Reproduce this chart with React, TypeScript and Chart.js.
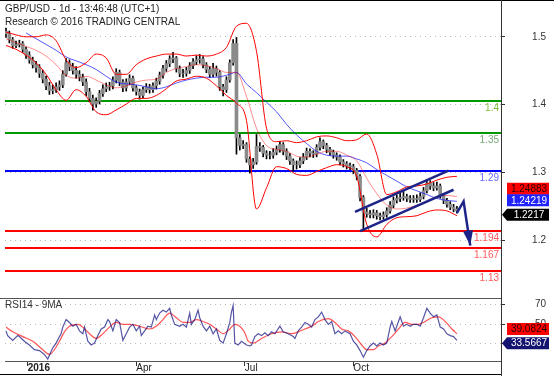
import React, { useEffect, useRef } from 'react';
import { Chart, registerables } from 'chart.js';

Chart.register(...registerables);

const FONT = '"Liberation Sans", Arial, Helvetica, sans-serif';
const NAVY = '#1c2488';

const TITLE = 'GBP/USD - 1d - 13:46:48 (UTC+1)';
const SUBTITLE = 'Research \u00A9 2016 TRADING CENTRAL';
const RSI_TITLE = 'RSI14 - 9MA';

const X_MIN = -0.6;
const X_MAX = 296.4;
const PRICE_MIN = 1.13262;
const PRICE_MAX = 1.54539;
const RSI_MIN = 12.57;
const RSI_MAX = 76.38;

const xTickDays = [13, 78, 143, 208];
const xTickLabels = ['2016', 'Apr', 'Jul', 'Oct'];
const priceTicks = [1.2, 1.3, 1.4, 1.5];
const priceTickLabels = ['1.2', '1.3', '1.4', '1.5'];
const rsiTicks = [30, 50, 70];
const rsiTickLabels = ['30', '50', '70'];

// trading-day index of each candle (one candle per two sessions)
const candleDays = [
  0, 2, 4, 6, 8, 10, 12, 14, 16, 18,
  20, 22, 24, 26, 28, 30, 32, 34, 36, 38,
  40, 42, 44, 46, 48, 50, 52, 54, 56, 58,
  60, 62, 64, 66, 68, 70, 72, 74, 76, 78,
  80, 82, 84, 86, 88, 90, 92, 94, 96, 98,
  100, 102, 104, 106, 108, 110, 112, 114, 116, 118,
  120, 122, 124, 126, 128, 130, 132, 134, 136, 138,
  140, 142, 144, 146, 148, 150, 152, 154, 156, 158,
  160, 162, 164, 166, 168, 170, 172, 174, 176, 178,
  180, 182, 184, 186, 188, 190, 192, 194, 196, 198,
  200, 202, 204, 206, 208, 210, 212, 214, 216, 218,
  220, 222, 224, 226, 228, 230, 232, 234, 236, 238,
  240, 242, 244, 246, 248, 250, 252, 254, 256, 258,
  260, 262, 264, 266, 268, 270,
];

const opens = [
  1.5080, 1.5043, 1.4957, 1.4872, 1.4886, 1.4901, 1.4816, 1.4730, 1.4660, 1.4589,
  1.4546, 1.4461, 1.4376, 1.4277, 1.4206, 1.4220, 1.4262, 1.4291, 1.4447, 1.4617,
  1.4560, 1.4504, 1.4447, 1.4404, 1.4333, 1.4191, 1.4092, 1.4007, 1.4050, 1.4163,
  1.4234, 1.4262, 1.4277, 1.4362, 1.4475, 1.4333, 1.4248, 1.4333, 1.4390, 1.4248,
  1.4191, 1.4135, 1.4220, 1.4262, 1.4220, 1.4277, 1.4347, 1.4433, 1.4532, 1.4603,
  1.4674, 1.4688, 1.4532, 1.4461, 1.4461, 1.4504, 1.4574, 1.4631, 1.4660, 1.4674,
  1.4589, 1.4518, 1.4447, 1.4532, 1.4475, 1.4262, 1.4220, 1.4362, 1.4617, 1.4901,
  1.3511, 1.3397, 1.3411, 1.3199, 1.3113, 1.3156, 1.3383, 1.3369, 1.3284, 1.3255,
  1.3255, 1.3298, 1.3340, 1.3411, 1.3312, 1.3241, 1.3170, 1.3113, 1.3113, 1.3170,
  1.3227, 1.3312, 1.3284, 1.3270, 1.3369, 1.3454, 1.3397, 1.3340, 1.3298, 1.3255,
  1.3227, 1.3156, 1.3128, 1.3099, 1.3085, 1.3028, 1.2943, 1.2631, 1.2418, 1.2390,
  1.2376, 1.2404, 1.2362, 1.2348, 1.2376, 1.2433, 1.2518, 1.2589, 1.2617, 1.2631,
  1.2645, 1.2617, 1.2603, 1.2617, 1.2603, 1.2645, 1.2730, 1.2844, 1.2801, 1.2773,
  1.2801, 1.2660, 1.2589, 1.2532, 1.2489, 1.2461,
];

const highs = [
  1.5130, 1.5085, 1.4990, 1.4935, 1.4950, 1.4930, 1.4850, 1.4780, 1.4700, 1.4640,
  1.4590, 1.4510, 1.4420, 1.4330, 1.4290, 1.4320, 1.4350, 1.4500, 1.4680, 1.4660,
  1.4610, 1.4560, 1.4500, 1.4450, 1.4380, 1.4240, 1.4140, 1.4100, 1.4210, 1.4290,
  1.4320, 1.4330, 1.4410, 1.4530, 1.4510, 1.4370, 1.4380, 1.4440, 1.4420, 1.4280,
  1.4230, 1.4260, 1.4310, 1.4300, 1.4320, 1.4390, 1.4480, 1.4580, 1.4650, 1.4720,
  1.4770, 1.4710, 1.4570, 1.4520, 1.4550, 1.4620, 1.4680, 1.4720, 1.4740, 1.4710,
  1.4620, 1.4560, 1.4610, 1.4570, 1.4500, 1.4300, 1.4410, 1.4660, 1.4960, 1.4990,
  1.3560, 1.3470, 1.3440, 1.3230, 1.3210, 1.3560, 1.3440, 1.3400, 1.3320, 1.3310,
  1.3350, 1.3390, 1.3460, 1.3440, 1.3350, 1.3280, 1.3200, 1.3170, 1.3220, 1.3280,
  1.3360, 1.3350, 1.3320, 1.3410, 1.3510, 1.3480, 1.3430, 1.3370, 1.3330, 1.3290,
  1.3260, 1.3190, 1.3160, 1.3140, 1.3120, 1.3060, 1.2970, 1.2660, 1.2470, 1.2440,
  1.2450, 1.2440, 1.2400, 1.2420, 1.2480, 1.2570, 1.2640, 1.2670, 1.2700, 1.2720,
  1.2680, 1.2660, 1.2660, 1.2670, 1.2700, 1.2780, 1.2890, 1.2880, 1.2850, 1.2860,
  1.2830, 1.2690, 1.2620, 1.2570, 1.2530, 1.2500,
];

const lows = [
  1.4990, 1.4910, 1.4830, 1.4840, 1.4850, 1.4770, 1.4680, 1.4610, 1.4540, 1.4480,
  1.4400, 1.4320, 1.4220, 1.4150, 1.4160, 1.4180, 1.4210, 1.4250, 1.4420, 1.4500,
  1.4450, 1.4390, 1.4350, 1.4280, 1.4130, 1.4040, 1.3920, 1.3960, 1.4010, 1.4120,
  1.4190, 1.4210, 1.4230, 1.4320, 1.4280, 1.4190, 1.4200, 1.4290, 1.4200, 1.4140,
  1.4080, 1.4100, 1.4180, 1.4170, 1.4180, 1.4230, 1.4300, 1.4390, 1.4490, 1.4560,
  1.4620, 1.4480, 1.4410, 1.4400, 1.4420, 1.4460, 1.4530, 1.4590, 1.4610, 1.4540,
  1.4470, 1.4400, 1.4410, 1.4420, 1.4210, 1.4130, 1.4180, 1.4330, 1.4580, 1.3270,
  1.3330, 1.3350, 1.3150, 1.2990, 1.3060, 1.3120, 1.3310, 1.3230, 1.3200, 1.3200,
  1.3210, 1.3260, 1.3300, 1.3260, 1.3190, 1.3120, 1.3020, 1.3050, 1.3070, 1.3130,
  1.3190, 1.3230, 1.3220, 1.3230, 1.3330, 1.3350, 1.3290, 1.3250, 1.3210, 1.3180,
  1.3110, 1.3080, 1.3050, 1.3040, 1.2980, 1.2890, 1.2580, 1.2163, 1.2340, 1.2330,
  1.2330, 1.2310, 1.2300, 1.2310, 1.2340, 1.2400, 1.2480, 1.2550, 1.2570, 1.2590,
  1.2570, 1.2560, 1.2560, 1.2560, 1.2570, 1.2610, 1.2700, 1.2750, 1.2730, 1.2740,
  1.2620, 1.2540, 1.2490, 1.2450, 1.2420, 1.2400,
];

const closes = [
  1.5043, 1.4957, 1.4872, 1.4886, 1.4901, 1.4816, 1.4730, 1.4660, 1.4589, 1.4546,
  1.4461, 1.4376, 1.4277, 1.4206, 1.4220, 1.4262, 1.4291, 1.4447, 1.4617, 1.4560,
  1.4504, 1.4447, 1.4404, 1.4333, 1.4191, 1.4092, 1.4007, 1.4050, 1.4163, 1.4234,
  1.4262, 1.4277, 1.4362, 1.4475, 1.4333, 1.4248, 1.4333, 1.4390, 1.4248, 1.4191,
  1.4135, 1.4220, 1.4262, 1.4220, 1.4277, 1.4347, 1.4433, 1.4532, 1.4603, 1.4674,
  1.4688, 1.4532, 1.4461, 1.4461, 1.4504, 1.4574, 1.4631, 1.4660, 1.4674, 1.4589,
  1.4518, 1.4447, 1.4532, 1.4475, 1.4262, 1.4220, 1.4362, 1.4617, 1.4901, 1.3511,
  1.3397, 1.3411, 1.3199, 1.3113, 1.3156, 1.3383, 1.3369, 1.3284, 1.3255, 1.3255,
  1.3298, 1.3340, 1.3411, 1.3312, 1.3241, 1.3170, 1.3113, 1.3113, 1.3170, 1.3227,
  1.3312, 1.3284, 1.3270, 1.3369, 1.3454, 1.3397, 1.3340, 1.3298, 1.3255, 1.3227,
  1.3156, 1.3128, 1.3099, 1.3085, 1.3028, 1.2943, 1.2631, 1.2418, 1.2390, 1.2376,
  1.2404, 1.2362, 1.2348, 1.2376, 1.2433, 1.2518, 1.2589, 1.2617, 1.2631, 1.2645,
  1.2617, 1.2603, 1.2617, 1.2603, 1.2645, 1.2730, 1.2844, 1.2801, 1.2773, 1.2801,
  1.2660, 1.2589, 1.2532, 1.2489, 1.2461, 1.2433,
];

// Bollinger bands, sampled every 6 sessions
const bandDays = [
  0, 6, 12, 18, 24, 30, 36, 42, 48, 54,
  60, 66, 72, 78, 84, 90, 96, 102, 108, 114,
  120, 126, 132, 138, 144, 150, 156, 162, 168, 174,
  180, 186, 192, 198, 204, 210, 216, 222, 228, 234,
  240, 246, 252, 258, 264, 270,
];
const bandUpper = [
  1.5071, 1.5028, 1.5000, 1.5000, 1.5028, 1.4943, 1.4660, 1.4546, 1.4617, 1.4745,
  1.4688, 1.4447, 1.4447, 1.4589, 1.4674, 1.4716, 1.4745, 1.4745, 1.4716, 1.4730,
  1.4716, 1.4745, 1.4844, 1.5156, 1.5199, 1.4787, 1.3652, 1.3454, 1.3468, 1.3440,
  1.3468, 1.3525, 1.3539, 1.3511, 1.3468, 1.3482, 1.3567, 1.3270, 1.2674, 1.2716,
  1.2787, 1.2801, 1.2830, 1.2887, 1.2929, 1.2943,
];
const bandMiddle = [
  1.4972, 1.4915, 1.4858, 1.4801, 1.4716, 1.4589, 1.4433, 1.4390, 1.4418, 1.4362,
  1.4291, 1.4248, 1.4277, 1.4333, 1.4362, 1.4376, 1.4475, 1.4532, 1.4560, 1.4589,
  1.4574, 1.4532, 1.4475, 1.4475, 1.4121, 1.3652, 1.3397, 1.3340, 1.3312, 1.3241,
  1.3227, 1.3270, 1.3312, 1.3312, 1.3255, 1.3170, 1.2915, 1.2688, 1.2518, 1.2461,
  1.2475, 1.2518, 1.2574, 1.2645, 1.2660, 1.2645,
];
const bandLower = [
  1.4872, 1.4816, 1.4730, 1.4617, 1.4447, 1.4220, 1.4064, 1.4220, 1.4121, 1.3894,
  1.3851, 1.3922, 1.4007, 1.4092, 1.4092, 1.4135, 1.4234, 1.4348, 1.4376, 1.4418,
  1.4390, 1.4277, 1.4135, 1.4021, 1.3766, 1.2461, 1.2773, 1.3085, 1.3057, 1.2972,
  1.2957, 1.3014, 1.3071, 1.3114, 1.3085, 1.2943, 1.2234, 1.2050, 1.2234, 1.2333,
  1.2348, 1.2362, 1.2418, 1.2447, 1.2433, 1.2362,
];

// long moving average (blue)
const maDays = [
  12, 18, 24, 30, 36, 42, 48, 54, 60, 66,
  72, 78, 84, 90, 96, 102, 108, 114, 120, 126,
  132, 138, 144, 150, 156, 162, 168, 174, 180, 186,
  192, 198, 204, 210, 216, 222, 228, 234, 240, 246,
  252, 258, 264, 270,
];
const maValues = [
  1.5057, 1.4972, 1.4887, 1.4801, 1.4702, 1.4645, 1.4589, 1.4518, 1.4418, 1.4333,
  1.4305, 1.4291, 1.4262, 1.4234, 1.4262, 1.4319, 1.4362, 1.4390, 1.4404, 1.4404,
  1.4433, 1.4475, 1.4305, 1.4177, 1.4035, 1.3894, 1.3709, 1.3553, 1.3426, 1.3312,
  1.3255, 1.3241, 1.3241, 1.3199, 1.3142, 1.3043, 1.2957, 1.2872, 1.2787, 1.2730,
  1.2674, 1.2617, 1.2589, 1.2574,
];

// rising channel and projected path
const channelUpperDays = [209, 265];
const channelUpperValues = [1.2418, 1.3028];
const channelLowerDays = [212, 268];
const channelLowerValues = [1.2135, 1.2745];
const arrowDays = [270, 274, 278];
const arrowValues = [1.2404, 1.2574, 1.1922];

// horizontal levels
const levelValues = [1.4057, 1.3577, 1.3024, 1.2135, 1.1884, 1.1543];
const levelLabels = ['1.4', '1.35', '1.29', '1.194', '1.167', '1.13'];
const levelColors = ['#009900', '#009900', '#0000ff', '#ff0000', '#ff0000', '#ff0000'];
const levelTextColors = ['#7dbb3c', '#78a878', '#6a6aff', '#ff5a5a', '#ff5a5a', '#ff5a5a'];

// price tags
const priceTagLabels = ['1.24883', '1.24219', '1.2217'];
const priceTagLevels = [1.2759, 1.2589, 1.2376];
const priceTagFill = ['#ff0000', '#2222ff', '#000000'];
const priceTagText = ['#2a0000', '#ffffff', '#ffffff'];
const priceTagArrow = [false, false, true];

// RSI(14) and its 9-period MA
const rsiDays = [
  0, 1, 4, 7, 8, 11, 14, 17, 20, 23,
  25, 26, 28, 30, 32, 33, 34, 36, 38, 40,
  42, 44, 46, 47, 49, 51, 53, 55, 57, 59,
  61, 62, 64, 66, 68, 70, 72, 74, 76, 78,
  80, 81, 83, 85, 87, 89, 90, 92, 94, 96,
  98, 99, 101, 104, 106, 108, 110, 111, 113, 115,
  116, 118, 120, 122, 124, 126, 128, 130, 132, 134,
  135, 136, 137, 139, 141, 144, 146, 147, 149, 151,
  153, 155, 157, 159, 161, 164, 166, 169, 172, 173,
  175, 177, 179, 181, 183, 185, 187, 189, 191, 193,
  195, 197, 199, 201, 203, 206, 208, 210, 212, 214,
  216, 218, 220, 222, 224, 226, 228, 230, 231, 233,
  235, 236, 238, 240, 242, 244, 246, 248, 250, 252,
  254, 256, 258, 260, 262, 264, 266, 268, 270,
];
const rsiValues = [
  43.1, 38.3, 33.5, 38.3, 37.3, 32.6, 28.8, 24.0, 23.1, 19.2,
  14.5, 18.3, 25.9, 30.7, 37.3, 40.2, 46.9, 54.5, 51.6, 47.8,
  49.7, 43.1, 40.2, 46.9, 32.6, 28.8, 30.7, 38.3, 45.0, 46.9,
  54.5, 52.6, 43.1, 54.5, 51.6, 33.5, 40.2, 46.9, 49.7, 43.1,
  47.8, 38.3, 43.1, 47.8, 46.9, 59.2, 54.5, 61.1, 64.0, 62.1,
  65.9, 59.2, 49.7, 47.8, 49.7, 46.9, 61.1, 49.7, 54.5, 64.0,
  56.4, 47.8, 43.1, 47.8, 40.2, 45.0, 33.5, 30.7, 40.2, 51.6,
  62.1, 68.8, 30.7, 28.8, 32.6, 28.8, 27.8, 28.8, 37.3, 40.2,
  38.3, 41.1, 38.3, 42.1, 40.2, 47.8, 42.1, 40.2, 37.3, 35.4,
  43.1, 46.9, 51.6, 49.7, 46.9, 54.5, 57.3, 62.1, 54.5, 49.7,
  52.6, 40.2, 43.1, 40.2, 43.1, 40.2, 32.6, 28.8, 23.1, 16.4,
  23.1, 27.8, 30.7, 27.8, 30.7, 28.8, 30.7, 46.9, 52.6, 43.1,
  52.6, 57.3, 47.8, 49.7, 47.8, 49.7, 49.7, 47.8, 56.4, 65.9,
  61.1, 57.3, 59.2, 46.9, 45.0, 40.2, 38.3, 37.3, 33.5,
];
const rsiMaDays = [
  0, 4, 10, 16, 22, 26, 29, 32, 35, 38,
  43, 46, 50, 54, 58, 62, 66, 70, 74, 80,
  86, 90, 94, 98, 102, 106, 110, 114, 118, 122,
  126, 130, 134, 137, 140, 143, 145, 148, 153, 159,
  165, 171, 175, 179, 183, 187, 193, 197, 201, 205,
  209, 213, 216, 220, 223, 227, 231, 235, 239, 243,
  247, 251, 255, 259, 263, 267, 270,
];
const rsiMaValues = [
  46.9, 42.1, 37.3, 32.6, 24.0, 19.2, 24.0, 32.6, 42.1, 47.8,
  49.7, 46.9, 40.2, 35.4, 40.2, 46.9, 51.6, 49.7, 49.7, 47.8,
  45.0, 47.8, 54.5, 61.1, 56.4, 51.6, 51.6, 54.5, 52.6, 49.7,
  45.0, 40.2, 45.0, 49.7, 47.8, 41.1, 32.6, 30.7, 35.4, 40.2,
  42.1, 40.2, 42.1, 45.0, 47.8, 52.6, 55.4, 51.6, 45.0, 43.1,
  37.3, 28.8, 24.0, 24.0, 27.8, 30.7, 37.3, 45.0, 51.6, 49.7,
  49.7, 52.6, 56.4, 57.3, 52.6, 45.0, 40.2,
];

const rsiTagLabels = ['39.0824', '33.5667'];
const rsiTagLevels = [44.95, 30.67];
const rsiTagFill = ['#ff0000', '#141470'];
const rsiTagText = ['#2a0000', '#ffffff'];
const rsiTagArrow = [false, true];

const pts = (xs: number[], ys: number[]) => xs.map((x, i) => ({ x, y: ys[i] }));

const lineDs = (data: any[], color: string, width: number, extra: any = {}) => ({
  type: 'line',
  data,
  borderColor: color,
  backgroundColor: color,
  borderWidth: width,
  pointRadius: 0,
  fill: false,
  cubicInterpolationMode: 'monotone',
  ...extra,
});

function drawTag(ctx: CanvasRenderingContext2D, right: number, y: number, label: string, fill: string, text: string, arrow: boolean) {
  const x0 = right + 6;
  const x1 = right + 48;
  const h = 12;
  ctx.save();
  ctx.fillStyle = fill;
  ctx.beginPath();
  if (arrow) {
    ctx.moveTo(right + 1, y);
    ctx.lineTo(x0, y - h / 2);
    ctx.lineTo(x1, y - h / 2);
    ctx.lineTo(x1, y + h / 2);
    ctx.lineTo(x0, y + h / 2);
    ctx.closePath();
  } else {
    ctx.rect(x0, y - h / 2, x1 - x0, h);
  }
  ctx.fill();
  ctx.fillStyle = text;
  ctx.font = `10px ${FONT}`;
  ctx.textAlign = 'center';
  ctx.textBaseline = 'middle';
  ctx.fillText(label, (x0 + x1) / 2 + 1, y + 0.5);
  ctx.restore();
}

const yAxisCommon = (ticks: number[], labels: string[]) => ({
  type: 'linear',
  position: 'right',
  afterFit: (s: any) => {
    s.width = 45;
  },
  afterBuildTicks: (s: any) => {
    s.ticks = ticks.map((v) => ({ value: v }));
  },
  ticks: {
    callback: (_v: any, i: number) => labels[i],
    color: '#333',
    font: { family: FONT, size: 10 },
    crossAlign: 'far',
    padding: 0,
  },
  grid: {
    color: '#b8b8b8',
    lineWidth: 1,
    drawTicks: true,
    tickLength: 4,
    tickColor: '#333',
    tickBorderDash: [],
  },
  border: { display: false, dash: [1, 4] },
});

const pricePlugin = {
  id: 'priceDecor',
  beforeDatasetsDraw(chart: any) {
    const { ctx, chartArea: a, scales } = chart;
    ctx.save();
    levelValues.forEach((v, i) => {
      const py = Math.round(scales.y.getPixelForValue(v));
      ctx.strokeStyle = levelColors[i];
      ctx.lineWidth = 2;
      ctx.beginPath();
      ctx.moveTo(a.left, py);
      ctx.lineTo(a.right, py);
      ctx.stroke();
    });
    ctx.restore();
  },
  afterDatasetsDraw(chart: any) {
    const { ctx } = chart;
    const meta = chart.getDatasetMeta(0);
    const n = meta.data.length;
    const p1 = meta.data[n - 2];
    const p2 = meta.data[n - 1];
    const ang = Math.atan2(p2.y - p1.y, p2.x - p1.x);
    const L = 15;
    const W = 5;
    ctx.save();
    ctx.fillStyle = NAVY;
    ctx.beginPath();
    ctx.moveTo(p2.x, p2.y);
    ctx.lineTo(p2.x - L * Math.cos(ang) + W * Math.sin(ang), p2.y - L * Math.sin(ang) - W * Math.cos(ang));
    ctx.lineTo(p2.x - L * Math.cos(ang) - W * Math.sin(ang), p2.y - L * Math.sin(ang) + W * Math.cos(ang));
    ctx.closePath();
    ctx.fill();
    ctx.restore();
  },
  afterDraw(chart: any) {
    const { ctx, chartArea: a, scales } = chart;
    ctx.save();
    // level labels
    ctx.font = `10px ${FONT}`;
    ctx.textAlign = 'right';
    ctx.textBaseline = 'top';
    levelValues.forEach((v, i) => {
      const py = Math.round(scales.y.getPixelForValue(v));
      ctx.fillStyle = levelTextColors[i];
      ctx.fillText(levelLabels[i], a.right - 2, py + 2);
    });
    // titles
    ctx.fillStyle = '#222';
    ctx.textAlign = 'left';
    ctx.textBaseline = 'middle';
    ctx.font = `10px ${FONT}`;
    ctx.fillText(TITLE, 5, 9);
    ctx.fillText(SUBTITLE, 5, 22);
    // frame
    ctx.fillStyle = '#000';
    ctx.fillRect(0, 0, chart.width, 1);
    ctx.fillStyle = '#333';
    ctx.fillRect(a.right, 0, 1, chart.height);
    ctx.restore();
    priceTagLabels.forEach((lab, i) => {
      drawTag(ctx, a.right, scales.y.getPixelForValue(priceTagLevels[i]), lab, priceTagFill[i], priceTagText[i], priceTagArrow[i]);
    });
  },
};

const rsiPlugin = {
  id: 'rsiDecor',
  afterDraw(chart: any) {
    const { ctx, chartArea: a, scales } = chart;
    ctx.save();
    ctx.fillStyle = '#555';
    ctx.fillRect(0, a.top, a.right, 1);
    ctx.fillStyle = '#000';
    ctx.fillRect(0, chart.height - 2, a.right, 1);
    ctx.fillStyle = '#333';
    ctx.fillRect(a.right, 0, 1, chart.height);
    ctx.fillStyle = '#333';
    ctx.font = `10px ${FONT}`;
    ctx.textAlign = 'left';
    ctx.textBaseline = 'middle';
    ctx.fillText(RSI_TITLE, 5, a.top + 7);
    ctx.restore();
    rsiTagLabels.forEach((lab, i) => {
      drawTag(ctx, a.right, scales.y.getPixelForValue(rsiTagLevels[i]), lab, rsiTagFill[i], rsiTagText[i], rsiTagArrow[i]);
    });
  },
};

export default function App() {
  const priceRef = useRef<HTMLCanvasElement>(null);
  const rsiRef = useRef<HTMLCanvasElement>(null);

  useEffect(() => {
    const priceChart = new Chart(priceRef.current as HTMLCanvasElement, {
      type: 'bar',
      data: {
        datasets: [
          lineDs(pts(arrowDays, arrowValues), NAVY, 2.5, { cubicInterpolationMode: 'default', tension: 0 }),
          lineDs(pts(channelUpperDays, channelUpperValues), NAVY, 2.5),
          lineDs(pts(channelLowerDays, channelLowerValues), NAVY, 2.5),
          lineDs(pts(bandDays, bandUpper), '#ff0000', 1),
          lineDs(pts(bandDays, bandMiddle), 'rgba(255,0,0,0.45)', 1),
          lineDs(pts(bandDays, bandLower), '#ff0000', 1),
          lineDs(pts(maDays, maValues), 'rgba(30,30,255,0.75)', 1),
          {
            type: 'bar',
            data: candleDays.map((d, i) => ({ x: d, y: [opens[i], closes[i]] })),
            backgroundColor: '#8a8a8a',
            barThickness: 3,
            grouped: false,
          },
          {
            type: 'bar',
            data: candleDays.map((d, i) => ({ x: d, y: [lows[i], highs[i]] })),
            backgroundColor: '#000000',
            barThickness: 1,
            grouped: false,
          },
        ] as any,
      },
      options: {
        responsive: false,
        animation: false,
        devicePixelRatio: 1,
        events: [],
        layout: { padding: { left: 5, right: 8, top: 1, bottom: 0 } },
        plugins: { legend: { display: false }, tooltip: { enabled: false } },
        scales: {
          x: { type: 'linear', min: X_MIN, max: X_MAX, display: false, offset: false, grid: { offset: false } },
          y: { ...yAxisCommon(priceTicks, priceTickLabels), min: PRICE_MIN, max: PRICE_MAX, beginAtZero: false },
        } as any,
      },
      plugins: [pricePlugin],
    } as any);

    const rsiChart = new Chart(rsiRef.current as HTMLCanvasElement, {
      type: 'line',
      data: {
        datasets: [
          lineDs(pts(rsiDays, rsiValues), 'rgba(20,20,130,0.72)', 1.2, { cubicInterpolationMode: 'default', tension: 0 }),
          lineDs(pts(rsiMaDays, rsiMaValues), 'rgba(255,30,30,0.75)', 1.2),
        ] as any,
      },
      options: {
        responsive: false,
        animation: false,
        devicePixelRatio: 1,
        events: [],
        layout: { padding: { left: 5, right: 8, top: 2, bottom: 0 } },
        plugins: { legend: { display: false }, tooltip: { enabled: false } },
        scales: {
          x: {
            type: 'linear',
            min: X_MIN,
            max: X_MAX,
            position: 'bottom',
            offset: false,
            afterFit: (s: any) => {
              s.height = 15;
            },
            afterBuildTicks: (s: any) => {
              s.ticks = xTickDays.map((v) => ({ value: v }));
            },
            ticks: {
              callback: (_v: any, i: number) => xTickLabels[i],
              align: 'start',
              padding: -4,
              color: '#222',
              autoSkip: false,
              maxRotation: 0,
              font: (c: any) => ({ family: FONT, size: 10, weight: c.index === 0 ? 'bold' : 'normal' }),
            },
            grid: { drawOnChartArea: false, drawTicks: true, tickLength: 5, tickColor: '#333', color: '#333' },
            border: { display: true, color: '#555', width: 1 },
          },
          y: { ...yAxisCommon(rsiTicks, rsiTickLabels), min: RSI_MIN, max: RSI_MAX },
        } as any,
      },
      plugins: [rsiPlugin],
    } as any);

    return () => {
      priceChart.destroy();
      rsiChart.destroy();
    };
  }, []);

  return (
    <div style={{ position: 'absolute', left: 0, top: 0, width: 554, height: 376, background: '#fff' }}>
      <canvas ref={priceRef} width={554} height={292} style={{ position: 'absolute', left: 0, top: 0, width: 554, height: 292 }} />
      <canvas ref={rsiRef} width={554} height={84} style={{ position: 'absolute', left: 0, top: 292, width: 554, height: 84 }} />
    </div>
  );
}
